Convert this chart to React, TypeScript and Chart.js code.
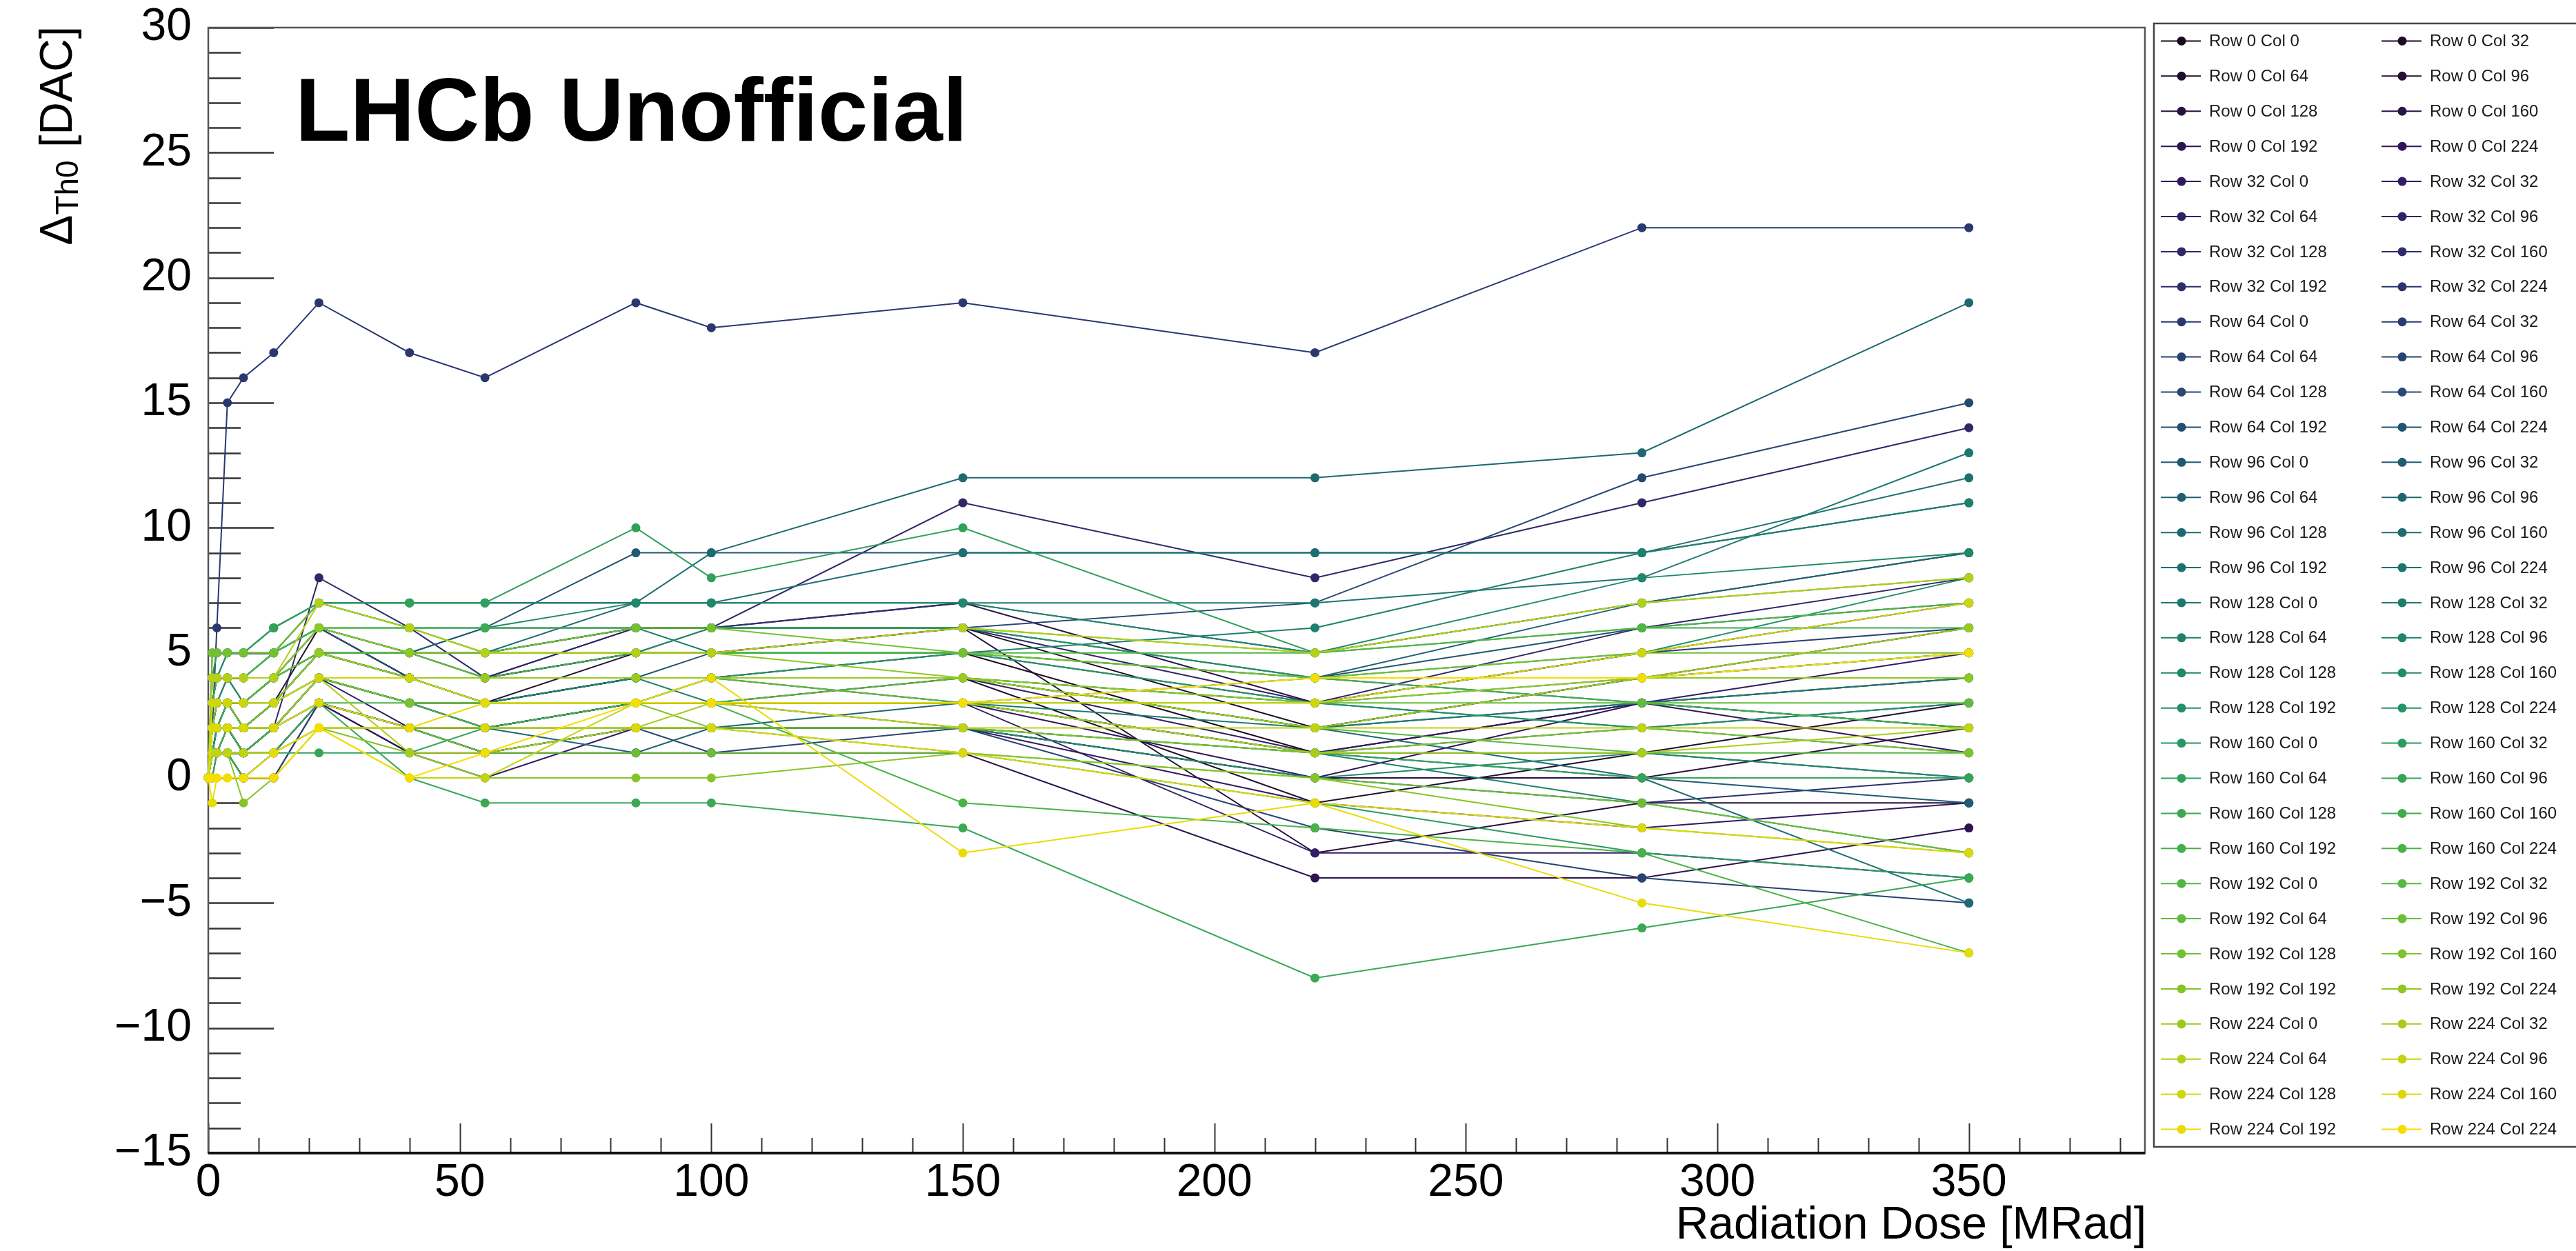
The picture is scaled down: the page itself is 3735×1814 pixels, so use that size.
import React, { useEffect, useRef } from "react";
import { Chart, registerables } from "chart.js";

Chart.register(...registerables);

// ---------------- data ----------------
const doses = [0, 0.8, 1.7, 3.8, 7, 13, 22, 40, 55, 85, 100, 150, 220, 285, 350];
const pixelRows = [0, 32, 64, 96, 128, 160, 192, 224];
const pixelCols = [0, 32, 64, 96, 128, 160, 192, 224];
const xTickValues = [0, 50, 100, 150, 200, 250, 300, 350];
const yTickValues = [-15, -10, -5, 0, 5, 10, 15, 20, 25, 30];

const r0c0 = [0, 1, 2, 2, 1, 2, 4, 3, 3, 4, 4, 5, 1, 3, 4];
const r0c32 = [0, 2, 2, 3, 2, 3, 5, 4, 4, 5, 5, 6, 2, 4, 6];
const r0c64 = [0, 1, 1, 1, 0, 1, 3, 2, 2, 3, 3, 4, -1, 1, 3];
const r0c96 = [0, 2, 3, 3, 2, 3, 6, 4, 3, 5, 6, 6, -3, -1, -1];
const r0c128 = [0, 1, 2, 2, 1, 2, 3, 1, 1, 2, 2, 2, 0, 0, 2];
const r0c160 = [0, 3, 3, 4, 3, 4, 6, 5, 4, 6, 6, 7, 3, 5, 7];
const r0c192 = [0, 1, 1, 2, 1, 1, 3, 2, 1, 1, 1, 1, -4, -4, -2];
const r0c224 = [0, 2, 2, 2, 2, 2, 4, 3, 2, 3, 3, 3, 0, 3, 1];
const r32c0 = [0, 0, 1, 1, 0, 0, 3, 1, 0, 2, 2, 2, -1, -2, -1];
const r32c32 = [0, 2, 2, 3, 2, 3, 5, 4, 3, 4, 4, 4, 1, 3, 5];
const r32c64 = [0, 1, 2, 2, 1, 2, 4, 2, 2, 3, 3, 3, -3, -3, -4];
const r32c96 = [0, 2, 3, 3, 3, 4, 6, 4, 4, 5, 5, 6, 3, 6, 8];
const r32c128 = [0, 1, 1, 1, 1, 2, 8, 6, 4, 6, 6, 11, 8, 11, 14];
const r32c160 = [0, 2, 2, 2, 2, 3, 4, 3, 3, 4, 4, 4, 2, 4, 5];
const r32c192 = [0, 1, 1, 2, 1, 1, 3, 2, 1, 2, 2, 2, 0, -1, 0];
const r32c224 = [0, 3, 3, 3, 3, 4, 5, 5, 5, 6, 6, 7, 5, 7, 9];
const r64c0 = [0, 2, 6, 15, 16, 17, 19, 17, 16, 19, 18, 19, 17, 22, 22];
const r64c32 = [0, 1, 2, 2, 2, 2, 4, 3, 2, 3, 3, 3, 1, 2, 3];
const r64c64 = [0, 2, 3, 3, 2, 3, 5, 4, 4, 5, 5, 5, 3, 5, 6];
const r64c96 = [0, 1, 1, 1, 0, 0, 3, 2, 1, 2, 1, 2, -2, -4, -5];
const r64c128 = [0, 2, 2, 3, 3, 3, 5, 5, 5, 6, 6, 6, 7, 12, 15];
const r64c160 = [0, 3, 4, 4, 4, 5, 6, 4, 3, 4, 4, 3, 1, 1, 0];
const r64c192 = [0, 1, 2, 2, 1, 2, 3, 2, 2, 3, 4, 4, 2, 3, 2];
const r64c224 = [0, 2, 3, 3, 3, 4, 5, 4, 4, 4, 5, 5, 4, 6, 7];
const r96c0 = [0, 3, 4, 4, 4, 5, 6, 5, 6, 9, 9, 9, 9, 9, 11];
const r96c32 = [0, 1, 2, 2, 1, 2, 4, 3, 2, 3, 3, 2, 1, 0, -1];
const r96c64 = [0, 2, 3, 3, 2, 3, 5, 5, 6, 6, 6, 6, 4, 3, 2];
const r96c96 = [0, 1, 1, 2, 1, 2, 3, 2, 2, 1, 2, 3, 4, 7, 9];
const r96c128 = [0, 3, 4, 5, 5, 5, 7, 6, 5, 7, 9, 12, 12, 13, 19];
const r96c160 = [0, 2, 2, 3, 2, 3, 4, 3, 3, 4, 4, 4, 2, 0, -5];
const r96c192 = [0, 4, 5, 5, 5, 5, 7, 7, 7, 7, 7, 9, 9, 9, 12];
const r96c224 = [0, 2, 3, 3, 3, 4, 5, 4, 4, 4, 4, 4, 3, 2, 1];
const r128c0 = [0, 5, 5, 5, 5, 6, 7, 7, 7, 7, 7, 7, 7, 8, 13];
const r128c32 = [0, 1, 2, 2, 2, 2, 4, 3, 3, 3, 3, 3, 2, 3, 4];
const r128c64 = [0, 3, 4, 4, 4, 5, 6, 5, 5, 6, 5, 5, 6, 9, 11];
const r128c96 = [0, 2, 2, 3, 2, 3, 5, 4, 3, 4, 3, 3, 1, -1, -3];
const r128c128 = [0, 4, 4, 5, 5, 6, 7, 6, 6, 7, 7, 7, 5, 8, 9];
const r128c160 = [0, 1, 1, 1, 1, 1, 2, 2, 1, 2, 2, 2, 0, 1, 0];
const r128c192 = [0, 3, 3, 4, 3, 4, 6, 5, 5, 5, 6, 6, 4, 5, 8];
const r128c224 = [0, 2, 2, 2, 2, 2, 4, 3, 3, 3, 4, 4, 3, 2, 3];
const r160c0 = [0, 2, 3, 3, 2, 3, 5, 5, 4, 4, 4, 5, 3, 4, 5];
const r160c32 = [0, 1, 2, 2, 2, 2, 3, 2, 2, 2, 2, 1, -1, -3, -4];
const r160c64 = [0, 4, 5, 5, 5, 6, 7, 7, 7, 10, 8, 10, 5, 7, 8];
const r160c96 = [0, 1, 1, 1, 1, 1, 1, 1, 2, 2, 2, 2, 1, 0, 0];
const r160c128 = [0, 0, 1, 1, 0, 1, 3, 0, -1, -1, -1, -2, -8, -6, -4];
const r160c160 = [0, 3, 4, 4, 4, 5, 6, 6, 6, 6, 6, 6, 5, 6, 6];
const r160c192 = [0, 2, 2, 3, 3, 4, 5, 4, 4, 5, 5, 5, 4, 3, 2];
const r160c224 = [0, 1, 1, 2, 1, 2, 3, 3, 2, 3, 3, -1, -2, -3, -7];
const r192c0 = [0, 4, 4, 4, 4, 5, 6, 6, 5, 5, 5, 5, 5, 6, 7];
const r192c32 = [0, 2, 2, 2, 2, 3, 4, 4, 3, 3, 3, 4, 2, 1, 1];
const r192c64 = [0, 3, 3, 3, 3, 4, 5, 5, 4, 4, 4, 3, 3, 3, 3];
const r192c96 = [0, 1, 1, 1, 1, 1, 2, 2, 1, 1, 1, 1, 0, -1, -3];
const r192c128 = [0, 5, 5, 5, 5, 5, 7, 6, 5, 6, 6, 5, 4, 5, 5];
const r192c160 = [0, 2, 3, 3, 2, 3, 4, 3, 3, 3, 2, 2, 1, 2, 1];
const r192c192 = [0, 1, 1, 1, -1, 0, 2, 1, 0, 0, 0, 1, 0, -2, -3];
const r192c224 = [0, 4, 4, 4, 4, 4, 6, 5, 5, 5, 5, 4, 3, 4, 4];
const r224c0 = [0, 3, 3, 3, 3, 3, 5, 4, 4, 4, 4, 4, 2, 4, 6];
const r224c32 = [0, 2, 2, 2, 2, 2, 4, 1, 1, 2, 3, 3, 1, 1, 2];
const r224c64 = [0, 4, 4, 4, 4, 4, 7, 6, 5, 5, 5, 6, 5, 7, 8];
const r224c96 = [0, 1, 1, 1, 1, 1, 2, 0, 0, 3, 3, 2, 2, 2, 2];
const r224c128 = [0, 3, 3, 3, 3, 3, 4, 4, 3, 3, 3, 3, 3, 5, 7];
const r224c160 = [0, 2, 2, 2, 2, 2, 3, 2, 2, 2, 2, 1, -1, -2, -3];
const r224c192 = [0, -1, 0, 0, 0, 1, 2, 2, 3, 3, 4, -3, -1, -5, -7];
const r224c224 = [0, 0, 0, 0, 0, 0, 2, 0, 1, 3, 3, 3, 4, 4, 5];

const seriesValues = [
  r0c0, r0c32, r0c64, r0c96, r0c128, r0c160, r0c192, r0c224,
  r32c0, r32c32, r32c64, r32c96, r32c128, r32c160, r32c192, r32c224,
  r64c0, r64c32, r64c64, r64c96, r64c128, r64c160, r64c192, r64c224,
  r96c0, r96c32, r96c64, r96c96, r96c128, r96c160, r96c192, r96c224,
  r128c0, r128c32, r128c64, r128c96, r128c128, r128c160, r128c192, r128c224,
  r160c0, r160c32, r160c64, r160c96, r160c128, r160c160, r160c192, r160c224,
  r192c0, r192c32, r192c64, r192c96, r192c128, r192c160, r192c192, r192c224,
  r224c0, r224c32, r224c64, r224c96, r224c128, r224c160, r224c192, r224c224,
];

// ---------------- style ----------------
const FONT = "'Liberation Sans', Arial, Helvetica, sans-serif";
const W = 3735;
const H = 1814;
const AREA = { left: 302, right: 3110, top: 40, bottom: 1672 };
const viridisStops = [
  [26, 9, 30], [51, 24, 96], [43, 55, 112], [33, 87, 114], [28, 118, 112],
  [35, 150, 101], [74, 180, 72], [144, 200, 35], [246, 222, 0],
];

function paletteColor(t: number): string {
  const s = Math.max(0, Math.min(1, t)) * (viridisStops.length - 1);
  const k = Math.min(viridisStops.length - 2, Math.floor(s));
  const f = s - k;
  const a = viridisStops[k];
  const b = viridisStops[k + 1];
  const c = a.map((v, j) => Math.round(v + (b[j] - v) * f));
  return `rgb(${c[0]},${c[1]},${c[2]})`;
}

function seriesLabel(i: number): string {
  return `Row ${pixelRows[Math.floor(i / pixelCols.length)]} Col ${pixelCols[i % pixelCols.length]}`;
}

function fmtNum(v: number): string {
  return v < 0 ? "\u2212" + Math.abs(v) : String(v);
}

const rootPlugin = {
  id: "rootStyle",
  beforeDatasetsDraw(chart: any) {
    const { ctx, chartArea: a, scales } = chart;
    const xs = scales.x;
    const ys = scales.y;
    ctx.save();
    ctx.strokeStyle = "#333";
    ctx.lineWidth = 2.5;
    for (let v = ys.min; v <= ys.max; v += 1) {
      const py = Math.round(ys.getPixelForValue(v)) + 0.5;
      const len = v % 5 === 0 ? 95 : 47;
      ctx.beginPath();
      ctx.moveTo(a.left, py);
      ctx.lineTo(a.left + len, py);
      ctx.stroke();
    }
    ctx.lineWidth = 2;
    for (let v = 0; v <= xs.max; v += 10) {
      const px = Math.round(xs.getPixelForValue(v)) + 0.5;
      const len = v % 50 === 0 ? 43 : 22;
      ctx.beginPath();
      ctx.moveTo(px, a.bottom);
      ctx.lineTo(px, a.bottom - len);
      ctx.stroke();
    }
    ctx.strokeStyle = "#555";
    ctx.lineWidth = 2.5;
    ctx.strokeRect(a.left, a.top, a.right - a.left, a.bottom - a.top);
    ctx.strokeStyle = "#111";
    ctx.lineWidth = 4;
    ctx.beginPath();
    ctx.moveTo(a.left, a.bottom);
    ctx.lineTo(a.right, a.bottom);
    ctx.stroke();
    ctx.restore();
  },
  afterDraw(chart: any) {
    const { ctx, chartArea: a } = chart;
    ctx.save();
    ctx.fillStyle = "#000";
    ctx.font = `bold 130px ${FONT}`;
    ctx.textAlign = "left";
    ctx.textBaseline = "alphabetic";
    ctx.fillText("LHCb Unofficial", 428, 204);

    ctx.font = `66px ${FONT}`;
    ctx.textAlign = "right";
    ctx.fillText("Radiation Dose [MRad]", a.right + 2, 1796);

    const big = `66px ${FONT}`;
    const small = `46px ${FONT}`;
    ctx.font = big;
    const w1 = ctx.measureText("\u0394").width;
    const w3 = ctx.measureText(" [DAC]").width;
    ctx.font = small;
    const w2 = ctx.measureText("Th0").width;
    const total = w1 + w2 + w3;
    ctx.translate(104, 38);
    ctx.rotate(-Math.PI / 2);
    ctx.textAlign = "left";
    let x0 = -total;
    ctx.font = big;
    ctx.fillText("\u0394", x0, 0);
    x0 += w1;
    ctx.font = small;
    ctx.fillText("Th0", x0, 9);
    x0 += w2;
    ctx.font = big;
    ctx.fillText(" [DAC]", x0, 0);
    ctx.restore();

    // Legend
    ctx.save();
    const lgLeft = 3123;
    const lgTop = 34;
    const lgBottom = 1663;
    const rows = Math.ceil(chart.data.datasets.length / 2);
    const rowH = (lgBottom - lgTop) / rows;
    ctx.fillStyle = "#fff";
    ctx.fillRect(lgLeft, lgTop, W - lgLeft + 50, lgBottom - lgTop);
    ctx.strokeStyle = "#444";
    ctx.lineWidth = 2.5;
    ctx.strokeRect(lgLeft, lgTop, W - lgLeft + 50, lgBottom - lgTop);
    ctx.font = `24px ${FONT}`;
    ctx.textBaseline = "middle";
    ctx.textAlign = "left";
    chart.data.datasets.forEach((ds: any, i: number) => {
      const col = i % 2;
      const row = Math.floor(i / 2);
      const cy = lgTop + (row + 0.5) * rowH;
      const sx = col === 0 ? 3133 : 3453;
      ctx.strokeStyle = ds.borderColor;
      ctx.lineWidth = 2;
      ctx.beginPath();
      ctx.moveTo(sx, cy);
      ctx.lineTo(sx + 58, cy);
      ctx.stroke();
      ctx.fillStyle = ds.backgroundColor;
      ctx.beginPath();
      ctx.arc(sx + 30, cy, 6.5, 0, Math.PI * 2);
      ctx.fill();
      ctx.fillStyle = "#1a1a1a";
      ctx.fillText(ds.label, sx + 70, cy + 1);
    });
    ctx.restore();
  },
};

export default function App() {
  const canvasRef = useRef<HTMLCanvasElement | null>(null);

  useEffect(() => {
    const canvas = canvasRef.current;
    if (!canvas) return;
    const n = seriesValues.length;
    const datasets = seriesValues.map((vals, i) => {
      const color = paletteColor(i / (n - 1));
      return {
        label: seriesLabel(i),
        data: doses.map((d, j) => ({ x: d, y: vals[j] })),
        borderColor: color,
        backgroundColor: color,
        borderWidth: 2,
        pointRadius: 6.5,
        pointBorderWidth: 0,
        pointBackgroundColor: color,
        tension: 0,
        clip: false,
        order: n - 1 - i,
      };
    });

    const chart = new Chart(canvas, {
      type: "line",
      data: { datasets },
      options: {
        responsive: false,
        maintainAspectRatio: false,
        animation: false,
        devicePixelRatio: 1,
        events: [],
        layout: {
          padding: { top: AREA.top, left: 0, right: W - AREA.right, bottom: 0 },
        },
        plugins: {
          legend: { display: false },
          tooltip: { enabled: false },
          title: { display: false },
        },
        scales: {
          x: {
            type: "linear",
            min: 0,
            max: 385,
            afterFit: (s: any) => {
              s.height = H - AREA.bottom;
              s.paddingLeft = 0;
              s.paddingRight = 0;
              s.paddingTop = 0;
              s.paddingBottom = 0;
            },
            afterBuildTicks: (s: any) => {
              s.ticks = xTickValues.map((v) => ({ value: v }));
            },
            grid: { display: false, drawTicks: false },
            border: { display: false },
            ticks: {
              color: "#000",
              font: { family: FONT, size: 66 },
              padding: 4,
              maxRotation: 0,
              autoSkip: false,
              includeBounds: false,
              callback: (v: any) => fmtNum(Number(v)),
            },
          },
          y: {
            type: "linear",
            min: -15,
            max: 30,
            afterFit: (s: any) => {
              s.width = AREA.left;
              s.paddingTop = 0;
              s.paddingBottom = 0;
              s.paddingLeft = 0;
              s.paddingRight = 0;
            },
            afterBuildTicks: (s: any) => {
              s.ticks = yTickValues.map((v) => ({ value: v }));
            },
            grid: { display: false, drawTicks: false },
            border: { display: false },
            ticks: {
              color: "#000",
              font: { family: FONT, size: 66 },
              padding: 24,
              autoSkip: false,
              includeBounds: false,
              callback: (v: any) => fmtNum(Number(v)),
            },
          },
        },
      },
      plugins: [rootPlugin],
    });

    return () => {
      chart.destroy();
    };
  }, []);

  return (
    <div
      style={{
        position: "fixed",
        left: 0,
        top: 0,
        width: W,
        height: H,
        background: "#fff",
        overflow: "hidden",
      }}
    >
      <canvas
        ref={canvasRef}
        width={W}
        height={H}
        style={{ width: W, height: H, display: "block" }}
      />
    </div>
  );
}
